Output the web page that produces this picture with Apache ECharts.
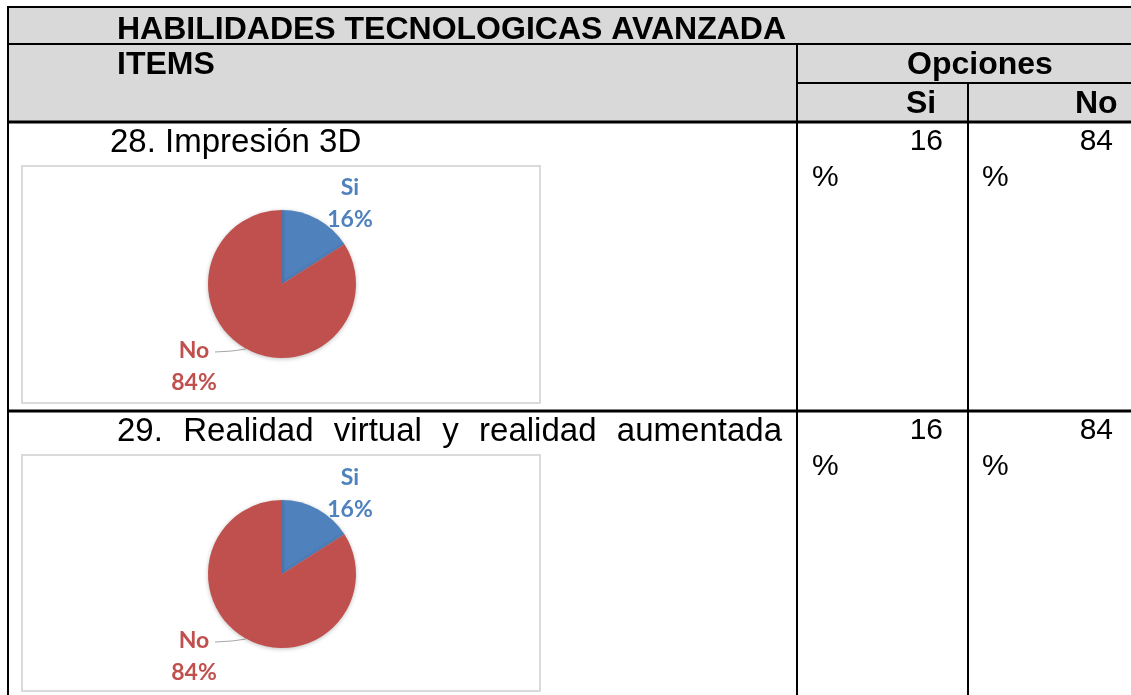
<!DOCTYPE html>
<html>
<head>
<meta charset="utf-8">
<title>Habilidades tecnologicas avanzada</title>
<script src="https://cdn.jsdelivr.net/npm/echarts@6/dist/echarts.min.js"></script>
<style>
html, body { margin: 0; padding: 0; background: #fff; }
#tabla { width: 1131px; height: 695px; }
</style>
</head>
<body>
<div id="tabla"></div>
<script>
// --- datos ---
var titulo = 'HABILIDADES TECNOLOGICAS AVANZADA';
var encabezado = ['ITEMS', 'Opciones'];
var opciones = ['Si', 'No'];
var items = ['28. Impresión 3D', '29. Realidad virtual y realidad aumentada'];
var valoresSi = [16, 16];
var valoresNo = [84, 84];

var colores = ['#4f81bd', '#c0504d'];
var fuente = '"Liberation Sans", Arial, sans-serif';

// filas: y del texto, caja del grafico, centro del pastel
var filas = [
	{ texto: 143, caja: [22, 166, 518, 237], cy: 284 },
	{ texto: 432, caja: [22, 455, 518, 236], cy: 574 }
];

var cv = document.createElement('canvas').getContext('2d');
cv.font = '33px ' + fuente;

function texto(str, x, y, opt) {
	opt = opt || {};
	return {
		type: 'text', x: x, y: y, z: 5,
		style: {
			text: str,
			fontSize: opt.size || 33,
			fontWeight: opt.bold ? 'bold' : 'normal',
			fontFamily: fuente,
			fill: '#000',
			align: opt.align || 'left',
			verticalAlign: 'middle'
		}
	};
}
function linea(x1, y1, x2, y2, w) {
	return {
		type: 'line', z: 6,
		shape: { x1: x1, y1: y1, x2: x2, y2: y2 },
		style: { stroke: '#000', lineWidth: w || 2 }
	};
}

// texto justificado entre x0 y x1
function justificado(str, x0, x1, y) {
	var palabras = str.split(' ');
	if (palabras.length < 2) return [texto(str, x0, y)];
	var anchos = palabras.map(function (p) { return cv.measureText(p).width; });
	var total = anchos.reduce(function (a, b) { return a + b; }, 0);
	var hueco = (x1 - x0 - total) / (palabras.length - 1);
	var out = [], x = x0;
	palabras.forEach(function (p, i) {
		out.push(texto(p, x, y));
		x += anchos[i] + hueco;
	});
	return out;
}

var graficos = [];
// fondo gris del encabezado
graficos.push({ type: 'rect', z: 1, shape: { x: 7, y: 7, width: 1124, height: 115 }, style: { fill: '#d9d9d9' } });
graficos.push(texto(titulo, 117, 30, { bold: true, size: 32 }));
graficos.push(texto(encabezado[0], 117, 65, { bold: true, size: 32 }));
graficos.push(texto(encabezado[1], 907, 65, { bold: true, size: 32 }));
graficos.push(texto(opciones[0], 906, 104, { bold: true, size: 32 }));
graficos.push(texto(opciones[1], 1075, 104, { bold: true, size: 32 }));

filas.forEach(function (f, i) {
	var c = f.caja;
	graficos.push({
		type: 'rect', z: 1,
		shape: { x: c[0], y: c[1], width: c[2], height: c[3] },
		style: { fill: '#fff', stroke: '#dadada', lineWidth: 2 }
	});
	if (i === 0) {
		graficos.push(texto(items[i], 110, f.texto));
	} else {
		graficos = graficos.concat(justificado(items[i], 117, 782, f.texto));
	}
	graficos.push(texto(String(valoresSi[i]), 943, f.texto - 1, { align: 'right', size: 30 }));
	graficos.push(texto('%', 812, f.texto + 35, { size: 30 }));
	graficos.push(texto(String(valoresNo[i]), 1113, f.texto - 1, { align: 'right', size: 30 }));
	graficos.push(texto('%', 982, f.texto + 35, { size: 30 }));
});

// lineas de la tabla
graficos.push(linea(7, 7, 1131, 7));
graficos.push(linea(8, 7, 8, 695));
graficos.push(linea(7, 44, 1131, 44));
graficos.push(linea(797, 44, 797, 695));
graficos.push(linea(797, 83, 1131, 83));
graficos.push(linea(968, 83, 968, 695));
graficos.push(linea(7, 122, 1131, 122, 3));
graficos.push(linea(7, 411, 1131, 411, 3));

// --- pasteles ---
var series = filas.map(function (f, i) {
	var cy = f.cy;
	return {
		name: items[i],
		type: 'pie',
		center: [282, cy],
		radius: 74,
		startAngle: 90,
		clockwise: true,
		animation: false,
		z: 3,
		itemStyle: { shadowBlur: 4, shadowColor: 'rgba(0,0,0,0.25)', shadowOffsetY: 1 },
		label: {
			show: true,
			position: 'outside',
			formatter: '{b}\n{d}%',
			fontFamily: 'Lato, "Open Sans", sans-serif',
			fontWeight: 'bold',
			fontSize: 23,
			lineHeight: 32
		},
		labelLine: { show: true, lineStyle: { color: '#a6a6a6', width: 1 } },
		labelLayout: function (p) {
			if (p.dataIndex === 0) {
				return { x: 350, y: cy - 80, align: 'center', verticalAlign: 'middle' };
			}
			return {
				x: 194, y: cy + 83, align: 'center', verticalAlign: 'middle',
				labelLinePoints: [[246, cy + 65], [232, cy + 67], [215, cy + 68]]
			};
		},
		data: [
			{ name: opciones[0], value: valoresSi[i], itemStyle: { color: colores[0] },
				label: { color: colores[0] }, labelLine: { show: false } },
			{ name: opciones[1], value: valoresNo[i], itemStyle: { color: colores[1] },
				label: { color: colores[1] } }
		]
	};
});

var chart = echarts.init(document.getElementById('tabla'));
chart.setOption({
	backgroundColor: '#fff',
	tooltip: { trigger: 'item', formatter: '{b}: {d}%' },
	graphic: { elements: graficos },
	series: series
});
</script>
</body>
</html>
